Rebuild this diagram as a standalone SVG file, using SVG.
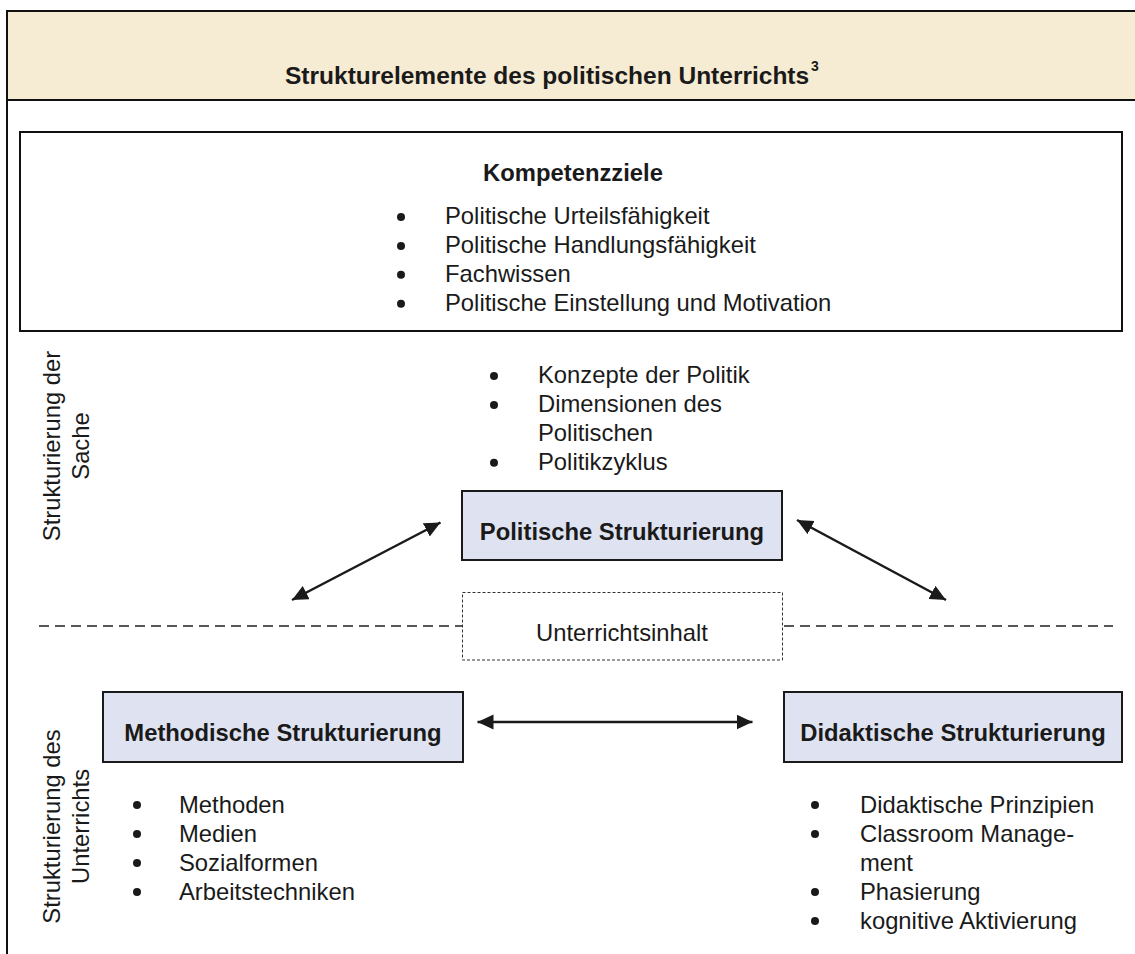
<svg xmlns="http://www.w3.org/2000/svg" width="1135" height="954" viewBox="0 0 1135 954">
<style>
text{font-family:"Liberation Sans",Arial,sans-serif;fill:#1a1a1a;font-size:23.8px}
.b{font-weight:bold}
.box{fill:#DFE3F1;stroke:#1a1a1a;stroke-width:2}
.frame{fill:none;stroke:#111;stroke-width:2}
.dot{fill:#1a1a1a}
.arr{stroke:#1a1a1a;stroke-width:2.5;fill:none;marker-start:url(#ah);marker-end:url(#ah)}
.dash{stroke:#222;stroke-width:1.5;stroke-dasharray:10 6;fill:none}
</style>
<defs>
<marker id="ah" markerUnits="userSpaceOnUse" markerWidth="18" markerHeight="16" refX="16" refY="7.5" orient="auto-start-reverse" viewBox="0 0 18 16">
<path d="M0,0 L16,7.5 L0,15 z" fill="#1a1a1a"/>
</marker>
</defs>
<rect width="1135" height="954" fill="#fff"/>
<g id="frame">
<rect x="7" y="11" width="1140" height="89" fill="#F6EBD3" stroke="#111" stroke-width="2"/>
<line x1="7" y1="10" x2="7" y2="954" stroke="#111" stroke-width="2"/>
<text class="b" x="285" y="84" style="font-size:24.5px">Strukturelemente des politischen Unterrichts</text>
<text class="b" x="811" y="71" style="font-size:14px">3</text>
</g>
<g id="kompetenzziele">
<rect class="frame" x="20" y="132" width="1102" height="199"/>
<text class="b" x="573" y="181" text-anchor="middle">Kompetenzziele</text>
<circle class="dot" cx="401" cy="217" r="4"/><text x="445" y="224">Politische Urteilsfähigkeit</text>
<circle class="dot" cx="401" cy="245.9" r="4"/><text x="445" y="252.9">Politische Handlungsfähigkeit</text>
<circle class="dot" cx="401" cy="274.8" r="4"/><text x="445" y="281.8">Fachwissen</text>
<circle class="dot" cx="401" cy="303.7" r="4"/><text x="445" y="310.7">Politische Einstellung und Motivation</text>
</g>
<g id="label-sache">
<text transform="translate(60,446) rotate(-90)" text-anchor="middle">Strukturierung der</text>
<text transform="translate(89,446) rotate(-90)" text-anchor="middle">Sache</text>
</g>
<g id="label-unterricht">
<text transform="translate(60,826.5) rotate(-90)" text-anchor="middle">Strukturierung des</text>
<text transform="translate(89,826.5) rotate(-90)" text-anchor="middle">Unterrichts</text>
</g>
<g id="sache-list">
<circle class="dot" cx="494" cy="376" r="4"/><text x="538" y="383">Konzepte der Politik</text>
<circle class="dot" cx="494" cy="404.9" r="4"/><text x="538" y="411.9">Dimensionen des</text>
<text x="538" y="440.8">Politischen</text>
<circle class="dot" cx="494" cy="462.7" r="4"/><text x="538" y="469.7">Politikzyklus</text>
</g>
<g id="politische">
<rect class="box" x="462" y="491" width="320" height="69"/>
<text class="b" x="622" y="539.5" text-anchor="middle">Politische Strukturierung</text>
</g>
<g id="unterrichtsinhalt">
<rect x="462.5" y="592.5" width="320" height="67.5" fill="#fff" stroke="#333" stroke-width="1" stroke-dasharray="3 2"/>
<text x="622" y="641" text-anchor="middle">Unterrichtsinhalt</text>
</g>
<g id="methodische">
<rect class="box" x="103" y="692" width="360" height="70"/>
<text class="b" x="283" y="741" text-anchor="middle">Methodische Strukturierung</text>
<circle class="dot" cx="137" cy="805" r="4"/><text x="179" y="813">Methoden</text>
<circle class="dot" cx="137" cy="834" r="4"/><text x="179" y="842">Medien</text>
<circle class="dot" cx="137" cy="863" r="4"/><text x="179" y="871">Sozialformen</text>
<circle class="dot" cx="137" cy="892" r="4"/><text x="179" y="900">Arbeitstechniken</text>
</g>
<g id="didaktische">
<rect class="box" x="784" y="692" width="338" height="70"/>
<text class="b" x="953" y="741" text-anchor="middle">Didaktische Strukturierung</text>
<circle class="dot" cx="815" cy="805" r="4"/><text x="860" y="813">Didaktische Prinzipien</text>
<circle class="dot" cx="815" cy="834" r="4"/><text x="860" y="842">Classroom Manage-</text>
<text x="860" y="871">ment</text>
<circle class="dot" cx="815" cy="892" r="4"/><text x="860" y="900">Phasierung</text>
<circle class="dot" cx="815" cy="921" r="4"/><text x="860" y="929">kognitive Aktivierung</text>
</g>
<g id="connectors">
<line class="dash" x1="39" y1="626" x2="462" y2="626"/>
<line class="dash" x1="784" y1="626" x2="1113" y2="626"/>
<line class="arr" x1="292" y1="600" x2="440.5" y2="522.5"/>
<line class="arr" x1="797" y1="520" x2="946" y2="600"/>
<line class="arr" x1="477.5" y1="722" x2="752.5" y2="722"/>
</g>
</svg>
